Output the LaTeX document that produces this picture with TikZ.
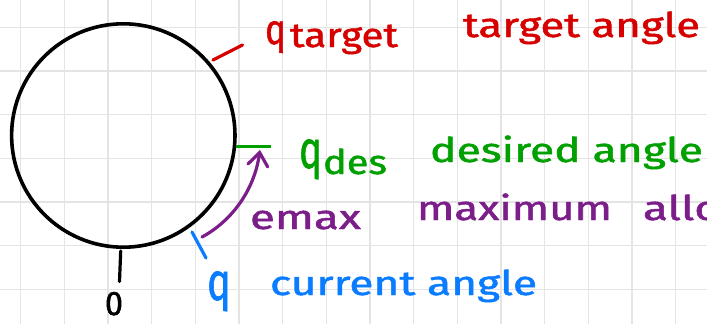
\documentclass[tikz,border=0pt]{standalone}
\usepackage{fontspec}
\setmainfont{Fira Sans}
\newfontfamily\handfont{Fira Sans}[FakeBold=1.3]
\usetikzlibrary{arrows.meta}
\definecolor{inkred}{RGB}{214,0,0}
\definecolor{inkgreen}{RGB}{0,160,0}
\definecolor{inkpurple}{RGB}{124,30,138}
\definecolor{inkblue}{RGB}{10,124,255}
\definecolor{gridgray}{RGB}{228,228,228}
% stretch a label horizontally to a given width (in pt), keeping its height
\newcommand{\hw}[2]{\resizebox{#1pt}{\height}{#2}}
% a letter fitted to a given width and total height (in pt)
\newcommand{\hq}[3]{\resizebox*{#1pt}{#2pt}{#3}}
\tikzset{
  gridline/.style={draw=gridgray, line width=1.3pt},
  pen/.style={line width=3.2pt, line cap=round},
  label/.style={inner sep=0pt, outer sep=0pt, anchor=base west,
    font=\handfont\fontsize{34}{40}\selectfont},
}
\begin{document}
\begin{tikzpicture}[x=1pt, y=-1pt]
  \useasboundingbox (0,0) rectangle (707,324);
  \clip (0,0) rectangle (707,324);
  \fill[white] (0,0) rectangle (707,324);
  % squared paper
  \foreach \i in {0,...,15}
    \draw[gridline] ({20.7+43.66*\i},0) -- ({20.7+43.66*\i},324);
  \foreach \j in {0,...,6}
    \draw[gridline] (0,{27.3+43.66*\j}) -- (707,{27.3+43.66*\j});

  % the wheel
  \node[circle, draw=black, line width=3.6pt, minimum size=223.4pt,
        inner sep=0pt] (wheel) at (123.3,135.5) {};

  % angle marks
  \coordinate (zeroA) at (120.7,251);
  \coordinate (zeroB) at (119.5,281.5);
  \coordinate (tgtA) at (213,60);
  \coordinate (tgtB) at (242.5,45);
  \coordinate (desA) at (236,146.5);
  \coordinate (desB) at (271,146.5);
  \coordinate (curA) at (192,232);
  \coordinate (curB) at (206,258);
  \coordinate (arrS) at (202,237);
  \coordinate (arrE) at (260,150);

  \draw[pen, black] (zeroA) -- (zeroB);
  \draw[pen, inkred] (tgtA) -- (tgtB);
  \draw[pen, inkgreen, line cap=butt] (desA) -- (desB);
  \draw[pen, inkblue] (curA) -- (curB);

  % maximum step arrow
  \draw[pen, inkpurple, -{Straight Barb[length=13pt, width=20pt, line cap=round]}]
    (arrS) .. controls (230,222) and (254,192) .. (arrE);

  % labels
  \node[label, black] (zero) at (105,315) {\hw{18}{0}};

  \node[label, inkred] (qtgt) at (265,44) {\hq{21}{32}{q}};
  \node[label, inkred] (sbtgt) at (290,47) {\hw{108}{target}};
  \node[label, inkred] (txtgt) at (463,37) {\hw{237}{target angle}};

  \node[label, inkgreen] (qdes) at (299,168) {\hq{23}{40}{q}};
  \node[label, inkgreen] (sbdes) at (323,174) {\hw{64}{des}};
  \node[label, inkgreen] (txdes) at (430,162) {\hw{273}{desired angle}};

  \node[label, inkpurple] (emax) at (250,229) {\hw{111}{emax}};
  \node[label, inkpurple] (txmax) at (417,220) {\hw{195}{maximum}};
  \node[label, inkpurple] (txallo) at (643,220) {\hw{78}{allo}};

  \node[label, inkblue] (qcur) at (207,300) {\hq{24}{40}{q}};
  \node[label, inkblue] (txcur) at (270,295) {\hw{267}{current angle}};
\end{tikzpicture}
\end{document}
